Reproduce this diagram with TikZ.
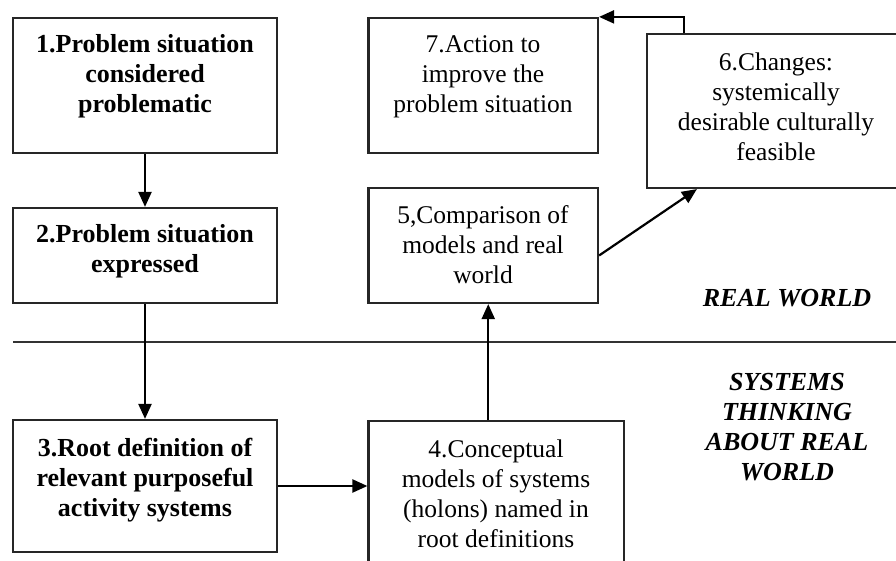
\documentclass[tikz,border=0pt]{standalone}
\usepackage{fontspec}
\setmainfont{Liberation Serif}
\usetikzlibrary{arrows.meta,calc}
\tikzset{
  box/.style={draw=black!85, line width=2.2pt, rectangle, inner sep=0pt, fill=white},
  btxt/.style={align=center, inner sep=0pt, font=\fontsize{26}{30}\selectfont\bfseries},
  ntxt/.style={align=center, inner sep=0pt, font=\fontsize{25.5}{30}\selectfont},
  itxt/.style={align=center, inner sep=0pt, font=\fontsize{26}{30}\selectfont\bfseries\itshape},
  arr/.style={line width=2.2pt, -{Triangle[length=15pt,width=13pt]}},
  sep/.style={line width=1.8pt, draw=black!80}
}
\begin{document}
\begin{tikzpicture}[x=1pt,y=-1pt]
\useasboundingbox (0,0) rectangle (896,561);
\fill[white] (0,0) rectangle (896,561);
\clip (0,0) rectangle (896,561);
% boxes
\node[box, minimum width=264pt, minimum height=135pt] (b1) at (145,85.5) {};
\node[box, minimum width=264pt, minimum height=95pt] (b2) at (145,255.5) {};
\node[box, minimum width=264pt, minimum height=132pt] (b3) at (145,486) {};
\node[box, minimum width=255.5pt, minimum height=154pt] (b4) at (496.25,498) {};
\node[box, minimum width=229.5pt, minimum height=115pt] (b5) at (483.25,245.5) {};
\node[box, minimum width=260pt, minimum height=154pt] (b6) at (777,111) {};
\node[box, minimum width=229.5pt, minimum height=135pt] (b7) at (483.25,85.5) {};
% texts
\node[btxt] (t1) at (145,76) {1.Problem situation\\considered\\problematic};
\node[btxt] (t2) at (145,251) {2.Problem situation\\expressed};
\node[btxt] (t3) at (145,480) {3.Root definition of\\relevant purposeful\\activity systems};
\node[ntxt] (t4) at (496,494) {4.Conceptual\\models of systems\\(holons) named in\\root definitions};
\node[ntxt] (t5) at (483,245) {5,Comparison of\\models and real\\world};
\node[ntxt] (t6) at (776,107) {6.Changes:\\systemically\\desirable culturally\\feasible};
\node[ntxt] (t7) at (483,77) {7.Action to\\improve the\\problem situation};
\node[itxt] (rw) at (787,298) {REAL WORLD};
\node[itxt] (st) at (787,427) {SYSTEMS\\THINKING\\ABOUT REAL\\WORLD};
% separator
\coordinate (sl) at (13,342);
\coordinate (sr) at (896,342);
\draw[sep] (sl) -- (sr);
% connectors
\draw[arr] (b1.south) -- (b2.north);
\draw[arr] (b2.south) -- (b3.north);
\draw[arr] (b3.east) -- (b3.east -| b4.west);
\draw[arr] ([xshift=-8pt]b4.north) -- ([xshift=-8pt]b4.north |- b5.south);
\draw[arr] ([yshift=-10pt]b5.east) -- ([xshift=51pt]b6.south west);
\draw[arr] ([xshift=38pt]b6.north west) |- (b7.north east);
\end{tikzpicture}
\end{document}
